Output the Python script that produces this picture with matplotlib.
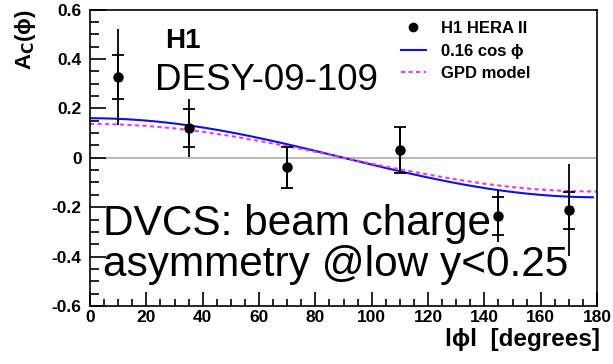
import numpy as np
import matplotlib.pyplot as plt
from matplotlib.lines import Line2D
from matplotlib.ticker import MultipleLocator

plt.rcParams['font.family'] = ['Liberation Sans', 'DejaVu Sans']

# H1 HERA II beam charge asymmetry vs |phi|
phi = [10, 35, 70, 110, 145, 170]
asym = [0.326, 0.119, -0.039, 0.032, -0.235, -0.212]
err_stat = [0.090, 0.077, 0.082, 0.092, 0.078, 0.075]
err_tot = [0.195, 0.117, 0.082, 0.092, 0.106, 0.185]

# fitted cos(phi) amplitude
fit_amp = 0.16

# GPD model prediction
gpd_phi = [0, 10, 20, 30, 40, 50, 60, 70, 80, 90, 100, 110, 120, 130, 140, 150, 160, 170, 180]
gpd_val = [0.137, 0.135, 0.129, 0.119, 0.105, 0.088, 0.068, 0.047, 0.024, 0.0,
           -0.024, -0.047, -0.068, -0.088, -0.105, -0.119, -0.129, -0.135, -0.137]

fig = plt.figure(figsize=(6.13, 3.64), dpi=100)
ax = fig.add_axes([0.1468, 0.1593, 0.8272, 0.8146])

ax.axhline(0, color='#b0aea8', lw=1.2, zorder=1)

phi_fine = np.linspace(0, 178.5, 200)
ax.plot(phi_fine, fit_amp * np.cos(np.radians(phi_fine)), color='#1010e0', lw=1.5,
        zorder=2)
ax.plot(gpd_phi, gpd_val, color='#e040e8', lw=1.5, ls=(0, (2.0, 1.6)), zorder=2)

# total errors without caps, statistical with caps
ax.errorbar(phi, asym, yerr=err_tot, fmt='none', ecolor='black', elinewidth=1.3,
            capsize=0, zorder=3)
ax.errorbar(phi, asym, yerr=err_stat, fmt='o', color='black', ms=6.5, elinewidth=1.3,
            capsize=4, capthick=1.3, zorder=4)

ax.set_xlim(0, 180)
ax.set_ylim(-0.6, 0.6)
ax.xaxis.set_minor_locator(MultipleLocator(5))
ax.yaxis.set_minor_locator(MultipleLocator(0.05))
ax.tick_params(which='both', direction='in', top=False, right=False,
               labelsize=12.5, width=1.2)
ax.tick_params(axis='y', which='major', length=11.5, pad=6)
ax.tick_params(axis='y', which='minor', length=6.5)
ax.tick_params(axis='x', which='major', length=10, pad=3)
ax.tick_params(axis='x', which='minor', length=5)
ax.set_yticks([-0.6, -0.4, -0.2, 0, 0.2, 0.4, 0.6])
ax.set_yticklabels(['-0.6', '-0.4', '-0.2', '0', '0.2', '0.4', '0.6'], fontweight='bold')
ax.set_xticks(range(0, 181, 20))
ax.set_xticklabels([str(v) for v in range(0, 181, 20)], fontweight='bold')
for s in ax.spines.values():
    s.set_linewidth(1.2)

ax.set_ylabel('A$_\\mathbf{C}$(\u03d5)', fontsize=16, fontweight='bold', loc='top')
ax.yaxis.set_label_coords(-0.103, 1.0)
ax.set_xlabel('l\u03d5l  [degrees]', fontsize=17.5, fontweight='bold', loc='right')
ax.xaxis.set_label_coords(1.005, -0.075)

handles = [
    Line2D([], [], ls='none', marker='o', color='black', ms=6),
    Line2D([], [], color='#1010e0', lw=1.5),
    Line2D([], [], color='#e040e8', lw=1.5, ls=(0, (2.0, 1.6))),
]
labels = ['H1 HERA II', '0.16 cos \u03d5', 'GPD model']
ax.legend(handles, labels, loc='upper left', bbox_to_anchor=(0.59, 1.0), frameon=False,
          prop={'weight': 'bold', 'size': 12}, handlelength=1.5,
          handletextpad=0.9, labelspacing=0.45, borderaxespad=0.3)

ax.text(0.148, 0.87, 'H1', transform=ax.transAxes, fontsize=20, fontweight='bold')
ax.text(0.128, 0.73, 'DESY-09-109', transform=ax.transAxes, fontsize=26.5)
ax.text(0.025, 0.24, 'DVCS: beam charge', transform=ax.transAxes, fontsize=30.5)
ax.text(0.025, 0.10, 'asymmetry @low y<0.25', transform=ax.transAxes, fontsize=30.5)

fig.savefig('out.png', dpi=100)
